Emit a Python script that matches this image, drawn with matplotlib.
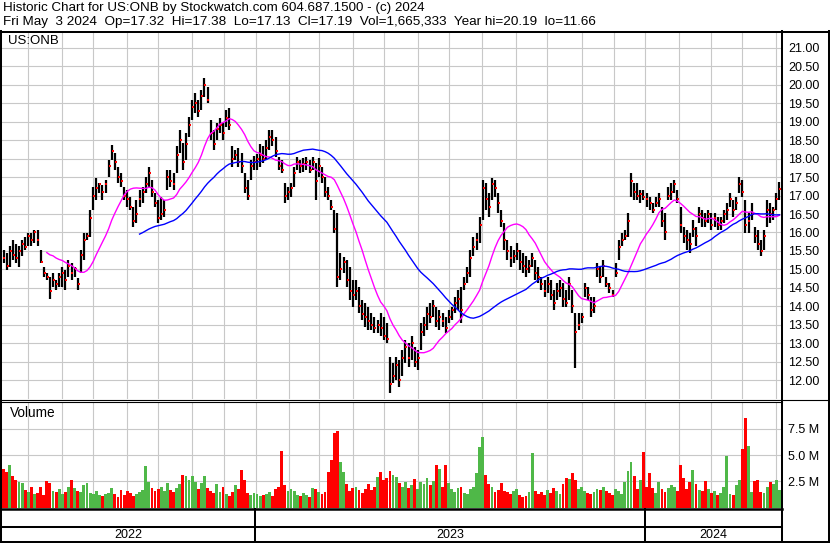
import numpy as np
import pandas as pd
import matplotlib.pyplot as plt

plt.rcParams['font.family'] = ['Liberation Sans', 'DejaVu Sans']

# ---------------------------------------------------------------------------
# Data (one bar = two sessions), May 2022 - May 3 2024
# ---------------------------------------------------------------------------
close = [15.3, 15.1, 15.5, 15.4, 15.3, 15.5, 15.7, 15.6, 15.9, 15.8,
         16.0, 15.8, 15.2, 14.9, 14.8, 14.4, 14.7, 14.6, 14.8, 14.9,
         14.7, 15.1, 14.9, 15.0, 14.6, 15.4, 15.8, 15.9, 16.4, 17.0,
         17.2, 17.3, 17.1, 17.3, 17.8, 18.2, 17.9, 17.5, 17.4, 17.0,
         16.9, 16.7, 16.3, 16.5, 16.9, 17.1, 17.3, 17.6, 17.1, 16.8,
         16.4, 16.5, 16.6, 17.5, 17.4, 17.3, 18.1, 18.5, 17.9, 18.4,
         18.9, 19.4, 19.5, 19.3, 19.7, 20.0, 19.6, 18.7, 18.4, 18.8,
         18.9, 18.7, 19.1, 18.9, 18.0, 18.1, 17.9, 17.8, 17.2, 17.0,
         17.8, 17.9, 18.0, 18.1, 18.0, 18.3, 18.6, 18.5, 18.2, 17.8,
         17.7, 17.0, 17.1, 17.2, 17.6, 17.9, 17.8, 17.85, 17.9, 17.7,
         17.9, 17.4, 17.8, 17.5, 17.1, 17.0, 16.7, 16.1, 14.8, 15.0,
         15.2, 14.7, 14.4, 14.3, 14.4, 14.0, 13.8, 13.7, 13.6, 13.5,
         13.4, 13.5, 13.4, 13.2, 13.1, 11.9, 12.1, 12.4, 12.0, 12.6,
         12.9, 12.6, 13.0, 12.5, 12.6, 13.3, 13.5, 13.8, 13.7, 14.0,
         13.6, 13.7, 13.6, 13.4, 13.7, 13.9, 14.1, 14.2, 13.9, 14.6,
         14.9, 15.3, 15.6, 15.8, 16.2, 17.2, 16.9, 16.7, 17.3, 17.2,
         16.8, 16.3, 15.8, 15.5, 15.3, 15.35, 15.5, 15.2, 15.1, 15.0,
         15.1, 15.3, 14.9, 14.8, 14.6, 14.4, 14.6, 14.3, 14.1, 14.4,
         14.5, 14.2, 14.1, 14.6, 14.0, 13.3, 13.5, 13.7, 14.5, 14.3,
         13.9, 14.0, 15.0, 14.8, 15.1, 14.6, 14.5, 14.3, 14.9, 15.6,
         15.8, 15.9, 16.3, 17.4, 17.1, 17.0, 17.05, 16.95, 16.9, 16.8,
         16.6, 16.8, 16.9, 16.3, 16.0, 17.0, 17.1, 17.3, 16.9, 16.2,
         15.9, 15.8, 15.7, 16.1, 15.9, 16.5, 16.4, 16.3, 16.5, 16.2,
         16.4, 16.2, 16.3, 16.5, 16.6, 16.9, 16.6, 16.8, 17.3, 17.1,
         16.2, 16.3, 16.5, 15.9, 15.7, 15.5, 15.9, 16.6, 16.5, 16.6,
         16.9, 17.19]

high = [15.53, 15.43, 15.62, 15.8, 15.7, 15.62, 15.8, 15.89, 15.98, 15.98,
        16.07, 16.07, 15.53, 15.07, 14.9, 14.8, 14.9, 14.71, 14.9, 15.07,
        14.98, 15.25, 15.16, 15.07, 14.76, 15.53, 15.98, 15.98, 16.61, 17.24,
        17.47, 17.33, 17.29, 17.42, 17.96, 18.37, 18.15, 17.78, 17.6, 17.24,
        17.15, 16.97, 16.7, 16.88, 17.15, 17.24, 17.51, 17.78, 17.42, 17.06,
        16.88, 16.97, 16.88, 17.69, 17.69, 17.6, 18.33, 18.78, 18.42, 18.69,
        19.14, 19.59, 19.77, 19.59, 19.86, 20.19, 19.95, 19.05, 18.78, 18.96,
        19.1, 18.96, 19.32, 19.37, 18.33, 18.24, 18.28, 18.15, 17.6, 17.42,
        17.96, 18.06, 18.14, 18.4, 18.33, 18.5, 18.78, 18.78, 18.6, 18.05,
        17.96, 17.33, 17.24, 17.33, 17.78, 18.05, 17.96, 18.01, 18.05, 17.96,
        18.05, 17.87, 18.01, 17.78, 17.51, 17.24, 16.88, 16.61, 16.52, 15.43,
        15.34, 15.25, 15.07, 14.71, 14.71, 14.53, 14.17, 14.08, 13.99, 13.81,
        13.72, 13.63, 13.81, 13.72, 13.54, 12.63, 12.45, 12.63, 12.54, 12.82,
        13.09, 13.0, 13.18, 12.9, 12.82, 13.54, 13.72, 13.99, 14.08, 14.17,
        13.99, 13.9, 13.81, 13.72, 13.9, 13.99, 14.26, 14.44, 14.53, 14.8,
        15.07, 15.53, 15.89, 15.98, 16.43, 17.42, 17.33, 17.06, 17.47, 17.42,
        17.06, 16.61, 16.25, 15.8, 15.62, 15.53, 15.71, 15.53, 15.44, 15.35,
        15.25, 15.44, 15.25, 15.07, 14.8, 14.71, 14.8, 14.71, 14.44, 14.62,
        14.71, 14.62, 14.44, 14.8, 14.44, 13.81, 13.81, 13.81, 14.62, 14.53,
        14.26, 14.26, 15.16, 15.07, 15.25, 14.8, 14.62, 14.44, 15.16, 15.8,
        15.98, 16.07, 16.52, 17.6, 17.33, 17.33, 17.15, 17.15, 17.06, 16.97,
        16.79, 16.97, 17.06, 16.7, 16.52, 17.24, 17.33, 17.42, 17.15, 16.7,
        16.16, 16.07, 15.98, 16.34, 16.16, 16.7, 16.61, 16.52, 16.61, 16.52,
        16.52, 16.43, 16.43, 16.61, 16.79, 17.06, 16.88, 16.97, 17.51, 17.42,
        16.88, 16.52, 16.79, 16.16, 16.07, 15.8, 16.07, 16.88, 16.79, 16.7,
        17.06, 17.38]

low = [15.16, 14.98, 15.07, 15.25, 15.16, 15.07, 15.35, 15.53, 15.62, 15.62,
       15.71, 15.62, 15.16, 14.8, 14.71, 14.19, 14.53, 14.44, 14.53, 14.53,
       14.44, 14.8, 14.71, 14.8, 14.44, 14.9, 15.25, 15.8, 15.89, 16.61,
       16.88, 17.06, 16.88, 17.06, 17.51, 17.96, 17.69, 17.33, 17.24, 16.88,
       16.7, 16.61, 16.16, 16.25, 16.7, 16.79, 17.06, 17.24, 16.97, 16.7,
       16.25, 16.34, 16.43, 17.15, 17.24, 17.15, 17.6, 18.15, 17.69, 17.96,
       18.6, 19.05, 19.23, 19.14, 19.32, 19.68, 19.5, 18.51, 18.24, 18.51,
       18.69, 18.51, 18.87, 18.78, 17.78, 17.96, 17.78, 17.6, 17.06, 16.88,
       17.42, 17.69, 17.69, 17.78, 17.87, 17.96, 18.23, 18.33, 18.05, 17.69,
       17.6, 16.79, 16.88, 16.97, 17.24, 17.69, 17.6, 17.65, 17.69, 17.6,
       17.69, 16.88, 17.51, 17.33, 16.97, 16.88, 16.61, 15.98, 14.53, 14.71,
       14.89, 14.53, 14.17, 13.99, 14.17, 13.81, 13.63, 13.45, 13.36, 13.36,
       13.27, 13.27, 13.18, 13.09, 12.99, 11.66, 11.91, 12.0, 11.82, 12.1,
       12.45, 12.36, 12.54, 12.36, 12.27, 12.82, 13.18, 13.36, 13.54, 13.72,
       13.45, 13.36, 13.45, 13.27, 13.54, 13.63, 13.81, 13.9, 13.54, 14.44,
       14.62, 14.8, 15.35, 15.53, 15.71, 16.34, 16.61, 16.43, 16.88, 16.97,
       16.52, 16.16, 15.53, 15.25, 15.07, 15.16, 15.25, 14.98, 14.89, 14.8,
       14.89, 15.07, 14.71, 14.62, 14.44, 14.26, 14.35, 14.17, 13.9, 14.17,
       14.26, 13.99, 13.99, 14.17, 13.81, 12.32, 13.36, 13.54, 14.26, 14.17,
       13.72, 13.81, 14.8, 14.62, 14.8, 14.53, 14.35, 14.26, 14.8, 15.25,
       15.62, 15.8, 15.89, 16.97, 16.88, 16.88, 16.79, 16.88, 16.7, 16.61,
       16.52, 16.7, 16.7, 16.16, 15.8, 16.88, 16.88, 17.06, 16.79, 15.98,
       15.71, 15.53, 15.44, 15.89, 15.62, 16.25, 16.16, 16.16, 16.25, 16.07,
       16.16, 16.07, 16.07, 16.25, 16.34, 16.7, 16.43, 16.61, 17.06, 16.97,
       15.98, 15.98, 16.34, 15.71, 15.53, 15.35, 15.53, 16.16, 16.25, 16.34,
       16.61, 16.88]

# volume in millions of shares
volume_m = [3.7, 3.4, 4.1, 3.0, 2.6, 2.4, 2.3, 1.7, 1.5, 2.0,
            1.3, 1.4, 2.0, 1.2, 2.5, 2.3, 1.6, 1.5, 1.8, 1.3,
            1.5, 2.0, 2.6, 1.9, 1.6, 1.5, 2.1, 2.3, 1.4, 1.3,
            1.6, 1.2, 1.1, 1.3, 1.4, 1.9, 1.3, 1.0, 1.7, 1.2,
            1.6, 1.4, 1.1, 1.3, 1.5, 1.7, 4.0, 2.4, 1.9, 1.6,
            1.8, 2.0, 1.6, 2.3, 1.7, 1.5, 1.9, 2.2, 3.1, 3.0,
            2.6, 3.0, 2.4, 1.8, 2.3, 3.0, 1.9, 1.6, 1.4, 2.2,
            1.5, 2.0, 1.3, 1.1, 1.5, 2.1, 1.8, 3.6, 2.6, 1.4,
            1.2, 1.4, 1.3, 1.1, 1.2, 1.3, 1.5, 1.1, 1.8, 2.0,
            5.4, 2.1, 1.6, 1.8, 1.6, 1.2, 1.1, 1.4, 1.2, 1.0,
            1.9, 1.8, 1.5, 1.3, 1.5, 3.4, 4.5, 7.1, 7.3, 4.3,
            3.4, 2.2, 1.6, 1.9, 2.0, 1.7, 1.4, 1.8, 2.2, 1.7,
            2.0, 2.9, 3.4, 2.6, 2.8, 3.5, 3.1, 2.9, 2.3, 2.0,
            2.4, 1.9, 2.1, 2.7, 1.8, 2.4, 2.2, 2.8, 2.1, 2.5,
            4.1, 3.7, 2.0, 4.1, 2.3, 1.8, 1.5, 1.9, 2.0, 1.4,
            1.3, 1.8, 2.0, 3.3, 5.8, 6.7, 3.1, 2.2, 2.0, 1.5,
            1.7, 2.3, 1.6, 1.5, 1.3, 1.6, 1.8, 1.2, 1.0, 1.1,
            1.5, 5.2, 1.6, 1.3, 1.5, 1.2, 1.7, 1.4, 1.9, 1.6,
            1.3, 2.2, 2.8, 2.7, 3.3, 2.6, 1.8, 2.0, 1.6, 1.4,
            1.3, 1.5, 1.8, 1.7, 2.0, 1.6, 1.4, 1.2, 1.8, 1.6,
            1.3, 2.4, 3.5, 4.3, 3.0, 1.8, 2.6, 5.3, 2.0, 3.3,
            1.9, 1.4, 2.4, 1.8, 1.5, 1.9, 2.1, 2.0, 1.6, 4.1,
            2.8, 1.8, 2.4, 3.6, 2.2, 1.7, 1.6, 2.5, 1.8, 1.4,
            1.6, 1.2, 1.4, 2.0, 4.9, 1.3, 1.2, 2.1, 2.6, 5.6,
            8.5, 5.9, 1.5, 2.5, 2.6, 1.5, 1.4, 2.0, 2.4, 2.2,
            2.6, 1.7]

years = ["2022", "2023", "2024"]
header1 = "Historic Chart for US:ONB by Stockwatch.com 604.687.1500 - (c) 2024"
header2 = ("Fri May  3 2024  Op=17.32  Hi=17.38  Lo=17.13  Cl=17.19  "
           "Vol=1,665,333  Year hi=20.19  lo=11.66")
symbol = "US:ONB"

# ---------------------------------------------------------------------------
# Layout (pixels of the 830 x 543 picture)
# ---------------------------------------------------------------------------
W, H = 830, 543
left, right = 2, 781
month_px = [28, 62, 93, 127, 158, 192, 224, 256, 289, 319, 353, 384, 418,
            449, 482, 516, 547, 582, 614, 645, 679, 711, 742, 776]
year_px = [2, 255, 645, 781]

n = len(close)
x = np.arange(n)
ma_fast = pd.Series(close).rolling(15).mean()
ma_slow = pd.Series(close).rolling(45).mean()


def px_to_bar(p):
    return (p - left) / (right - left) * n - 0.5


def fig_box(x0, y0, x1, y1):
    return [x0 / W, 1 - y1 / H, (x1 - x0) / W, (y1 - y0) / H]


fig = plt.figure(figsize=(W / 100, H / 100), dpi=100)
fig.patch.set_facecolor("white")

grid_kw = dict(color="#c8c8c8", lw=0.8)
month_ticks = [px_to_bar(p) for p in month_px]

# price panel
ax = fig.add_axes(fig_box(left, 33, right, 399))
ax.set_xlim(-0.5, n - 0.5)
ax.set_ylim(12 - 19 / 36.9, 21 + 15 / 36.9)
ax.vlines(x, low, high, color="black", lw=1.6, zorder=3)
ax.plot(x + 0.3, close, "s", color="#ff0000", ms=1.7, mew=0, zorder=4)
ax.plot(x, ma_fast, color="#ff00ff", lw=1.0, zorder=5)
ax.plot(x, ma_slow, color="#0000ff", lw=1.0, zorder=5)
ax.set_xticks(month_ticks)
ax.set_xticklabels([])
ticks = np.arange(12, 21.01, 0.5)
ax.set_yticks(ticks)
ax.set_yticklabels([f"{t:.2f}" for t in ticks])
ax.yaxis.tick_right()
ax.tick_params(length=0, pad=5, labelsize=9)
ax.grid(True, **grid_kw)
ax.set_axisbelow(True)
for s in ax.spines.values():
    s.set_visible(False)

# volume panel
av = fig.add_axes(fig_box(left, 402, right, 507.5))
av.set_xlim(-0.5, n - 0.5)
av.set_ylim(0, 105.5 / 10.48)
chg = np.diff(np.r_[close[0] + 1, close])
vcol = np.where(chg > 0, "#4fb848", np.where(chg < 0, "#ff0000", "#a8a8a8"))
av.bar(x, volume_m, width=0.92, color=vcol, zorder=3)
av.set_xticks(month_ticks)
av.set_xticklabels([])
av.set_yticks([2.5, 5.0, 7.5])
av.set_yticklabels(["2.5 M", "5.0 M", "7.5 M"])
av.yaxis.tick_right()
av.tick_params(length=0, pad=5, labelsize=9)
av.grid(True, **grid_kw)
av.set_axisbelow(True)
for s in av.spines.values():
    s.set_visible(False)

# frame, headers and year strip drawn in picture pixels
ov = fig.add_axes([0, 0, 1, 1], zorder=10)
ov.set_xlim(0, W)
ov.set_ylim(H, 0)
ov.axis("off")
ov.patch.set_visible(False)

lw2 = 1.45
ov.plot([0, W], [32, 32], color="black", lw=lw2)
ov.plot([1, 1], [31, 543], color="black", lw=lw2)
ov.plot([782, 782], [31, 543], color="black", lw=lw2)
ov.plot([829, 829], [31, 543], color="black", lw=lw2)
ov.plot([0, W], [400, 400], color="black", lw=0.8)
ov.plot([0, 782], [402.3, 402.3], color="black", lw=0.8)
ov.plot([0, 782], [509, 509], color="black", lw=1.8)
ov.plot([0, 782], [527, 527], color="black", lw=lw2)
ov.plot([0, W], [541.8, 541.8], color="black", lw=lw2)
for p in year_px[1:-1]:
    ov.plot([p, p], [509, 542], color="black", lw=lw2)
for i, yr in enumerate(years):
    ov.text((year_px[i] + year_px[i + 1]) / 2, 535, yr, ha="center",
            va="center", fontsize=9)

ov.text(3, 8, header1, ha="left", va="center", fontsize=9.6)
ov.text(3, 22.5, header2, ha="left", va="center", fontsize=9.7)
ov.text(8, 41, symbol, ha="left", va="center", fontsize=9.5)
ov.text(10, 413, "Volume", ha="left", va="center", fontsize=9.8)

fig.savefig("out.png", dpi=100, facecolor="white")
